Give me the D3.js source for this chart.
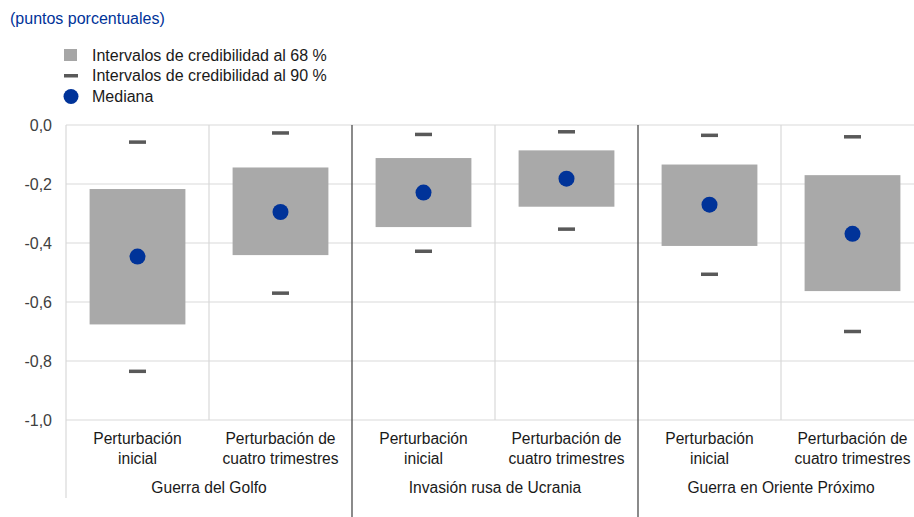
<!DOCTYPE html>
<html><head><meta charset="utf-8">
<script src="https://cdn.jsdelivr.net/npm/d3@7"></script>
<style>
body{margin:0;background:#fff;}
svg{display:block;font-family:"Liberation Sans",Arial,sans-serif;}
</style></head>
<body><svg id="c" width="914" height="517"></svg>
<script>
const groups = ["Guerra del Golfo","Invasión rusa de Ucrania","Guerra en Oriente Próximo"];
const shocks = [["Perturbación","inicial"],["Perturbación de","cuatro trimestres"]];
const lo68 = [-0.676,-0.441,-0.346,-0.277,-0.410,-0.563];
const hi68 = [-0.217,-0.144,-0.112,-0.086,-0.134,-0.170];
const lo90 = [-0.835,-0.570,-0.428,-0.353,-0.506,-0.700];
const hi90 = [-0.058,-0.027,-0.032,-0.023,-0.035,-0.040];
const median = [-0.446,-0.295,-0.229,-0.182,-0.270,-0.369];
const yTicks = [0,-0.2,-0.4,-0.6,-0.8,-1.0];
const legendLabels = ["Intervalos de credibilidad al 68 %","Intervalos de credibilidad al 90 %","Mediana"];
const title = "(puntos porcentuales)";

const svg = d3.select("#c");
const L = 66, R = 924, T = 125, B = 420;
const cats = [];
groups.forEach((g,gi)=>shocks.forEach((s,si)=>cats.push(gi+"-"+si)));
const x = d3.scaleBand().domain(cats).range([L,R]).paddingInner(0).paddingOuter(0);
const xg = d3.scaleBand().domain(groups).range([L,R]);
const y = d3.scaleLinear().domain([-1,0]).range([B,T]);
const fmt = v => d3.format(".1f")(v).replace(".",",").replace("−","-");

const grid = "#d9d9d9", dark = "#595959", txt = "#404040";

// title
svg.append("text").attr("x",10).attr("y",24).attr("fill","#003399")
  .style("font-size","16px").text(title);

// legend
const lg = svg.append("g");
lg.append("rect").attr("x",64).attr("y",49).attr("width",13).attr("height",12).attr("fill","#a6a6a6");
lg.append("rect").attr("x",64).attr("y",74).attr("width",14).attr("height",3.5).attr("fill",dark);
lg.append("circle").attr("cx",71).attr("cy",96.5).attr("r",7.5).attr("fill","#003399");
legendLabels.forEach((t,i)=>{
  lg.append("text").attr("x",92).attr("y",[60.5,80.5,101.5][i]).attr("fill","#1a1a1a")
    .style("font-size","16px").text(t);
});

// horizontal gridlines
svg.append("g").selectAll("line").data(yTicks).join("line")
  .attr("x1",L).attr("x2",R).attr("y1",d=>y(d)).attr("y2",d=>y(d))
  .attr("stroke",grid).attr("stroke-width",1.2);
// y tick labels
svg.append("g").selectAll("text").data(yTicks).join("text")
  .attr("x",52).attr("y",d=>y(d)).attr("dy","0.35em").attr("text-anchor","end")
  .attr("fill",txt).style("font-size","16px").text(d=>fmt(d));

// category separators (light)
svg.append("g").selectAll("line").data(groups).join("line")
  .attr("x1",d=>xg(d)+xg.bandwidth()/2).attr("x2",d=>xg(d)+xg.bandwidth()/2)
  .attr("y1",T).attr("y2",B).attr("stroke",grid).attr("stroke-width",1.2);
// left axis line
svg.append("line").attr("x1",L).attr("x2",L).attr("y1",T).attr("y2",498)
  .attr("stroke",grid).attr("stroke-width",1.2);
// group separators (dark)
svg.append("g").selectAll("line").data(groups.slice(1)).join("line")
  .attr("x1",d=>xg(d)).attr("x2",d=>xg(d)).attr("y1",T).attr("y2",517)
  .attr("stroke",dark).attr("stroke-width",1.4);

const bw = x.bandwidth()*0.67;
const cx = i => x(cats[i]) + x.bandwidth()/2;
// 68% bars
svg.append("g").selectAll("rect").data(cats).join("rect")
  .attr("x",(d,i)=>cx(i)-bw/2).attr("width",bw)
  .attr("y",(d,i)=>y(hi68[i])).attr("height",(d,i)=>y(lo68[i])-y(hi68[i]))
  .attr("fill","#a9a9a9");
// 90% markers
const mw = 17, mh = 3.5;
[lo90,hi90].forEach(arr=>{
  svg.append("g").selectAll("rect").data(cats).join("rect")
    .attr("x",(d,i)=>cx(i)-mw/2).attr("width",mw)
    .attr("y",(d,i)=>y(arr[i])-mh/2).attr("height",mh).attr("fill",dark);
});
// medians
svg.append("g").selectAll("circle").data(cats).join("circle")
  .attr("cx",(d,i)=>cx(i)).attr("cy",(d,i)=>y(median[i])).attr("r",8)
  .attr("fill","#003399");

// category labels
cats.forEach((c,i)=>{
  const s = shocks[i%2];
  const t = svg.append("text").attr("text-anchor","middle").attr("fill","#1a1a1a")
    .style("font-size","15.6px");
  s.forEach((line,k)=>t.append("tspan").attr("x",cx(i)).attr("y",444+k*20).text(line));
});
// group labels
svg.append("g").selectAll("text").data(groups).join("text")
  .attr("x",d=>xg(d)+xg.bandwidth()/2).attr("y",493).attr("text-anchor","middle")
  .attr("fill","#1a1a1a").style("font-size","15.6px").text(d=>d);
</script></body></html>
